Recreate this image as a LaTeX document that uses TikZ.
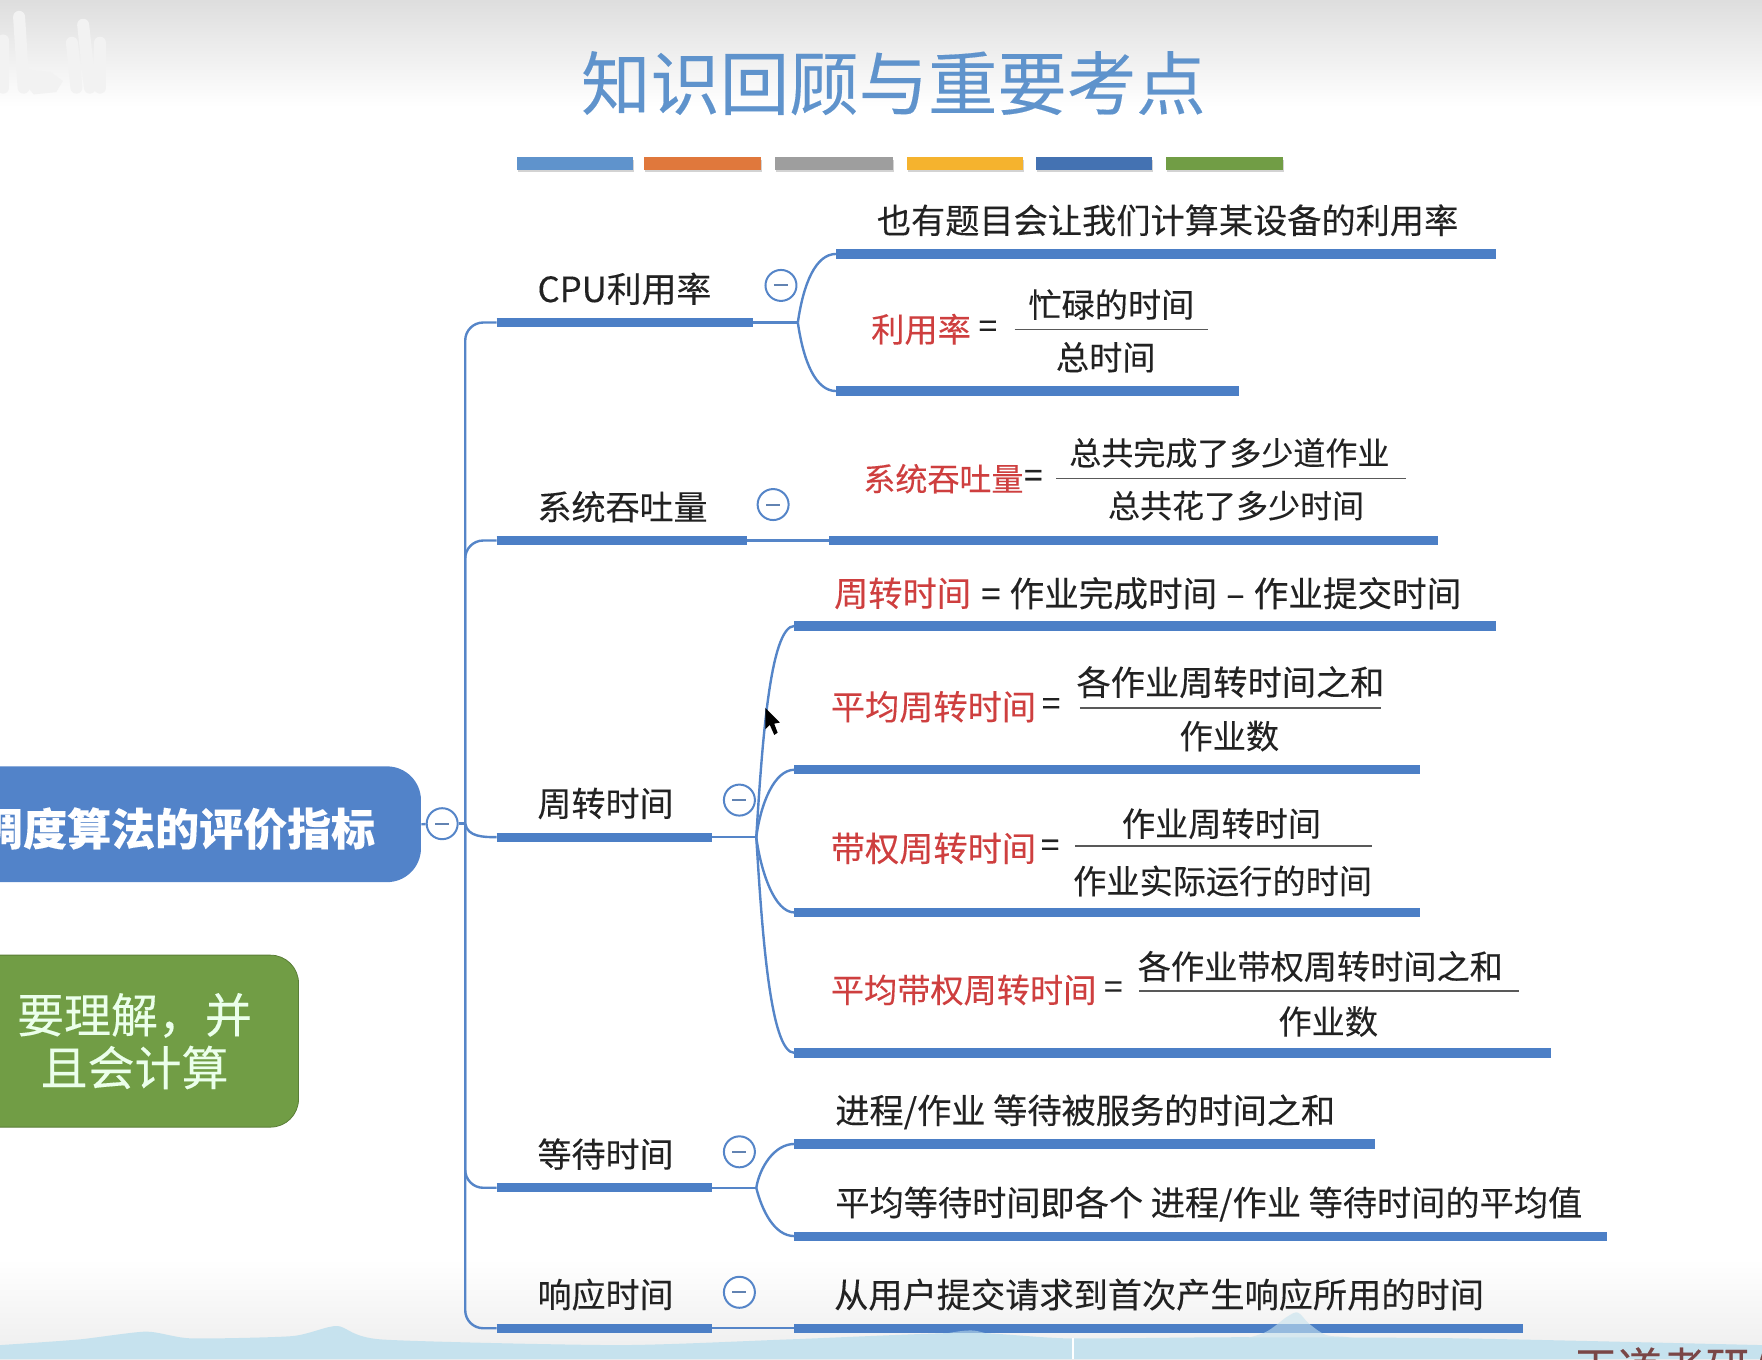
\documentclass[tikz,border=0pt]{standalone}
\usepackage{fontspec}
\setmainfont{Noto Sans CJK SC}[FakeBold=0.2]
\usepackage{xcolor}
\usepackage{tikz}
\usetikzlibrary{positioning, arrows.meta, calc, shadows}

\definecolor{linkblue}{HTML}{5585C8}
\definecolor{barblue}{HTML}{4C7FC6}
\definecolor{rootblue}{HTML}{5283C9}
\definecolor{notegreen}{HTML}{719D45}
\definecolor{titleblue}{HTML}{5F93CC}
\definecolor{termred}{HTML}{CE3F3F}
\definecolor{inkblack}{HTML}{222222}
\definecolor{hillblue}{HTML}{C6E2EE}
\definecolor{barorange}{HTML}{E0783C}
\definecolor{baryellow}{HTML}{F5B32E}

\tikzset{
    link/.style={draw=linkblue, line width=1.2pt},
    bar/.style={draw=barblue, line width=4.6pt},
    fracline/.style={draw=inkblack!75, line width=0.7pt},
    topic/.style={anchor=west, inner sep=0pt, text=inkblack, font=\fontsize{17}{20}\selectfont},
    leaf/.style={inner sep=0pt, text=inkblack, font=\fontsize{16.6}{20}\selectfont},
    term/.style={leaf, text=termred},
    bigtext/.style={font=\fontsize{17.1}{20}\selectfont},
    smalltext/.style={font=\fontsize{16}{20}\selectfont},
    collapse/.style={circle, draw=linkblue, fill=white, line width=1pt, minimum size=15.5pt, inner sep=0pt,
        path picture={\draw[draw=linkblue!70!gray, line width=1pt] ([xshift=-3.5pt]path picture bounding box.center) -- ([xshift=3.5pt]path picture bounding box.center);}},
    titlebar/.style={drop shadow={shadow xshift=0.5pt, shadow yshift=-1.2pt, opacity=0.35}},
    wmark/.style={draw=black!5, line width=6pt, line cap=round}
}

\begin{document}
\begin{tikzpicture}[x=0.5619pt, y=-0.5619pt]
    \useasboundingbox (0,0) rectangle (1568,1209.4);
    \clip (0,0) rectangle (1568,1209.4);

    % Fond
    \shade[top color=black!13, bottom color=white] (0,0) rectangle (1568,95);
    \shade[top color=white, bottom color=black!7] (0,1120) rectangle (1568,1209.4);
    \fill[hillblue] plot[smooth, tension=0.4] coordinates {(0,1197) (70,1192) (130,1185) (170,1191) (260,1189) (300,1180) (340,1192) (550,1197) (700,1192) (860,1186) (950,1191) (1100,1190) (1300,1191) (1568,1197)} -- (1568,1209.4) -- (0,1209.4) -- cycle;
    \draw[white, line width=1.2pt] (955,1191) -- (955,1209.4);

    % Filigrane
    \draw[wmark] (3,36) -- (3,78);
    \draw[wmark] (17,15) -- (21,78);
    \fill[black!5] (25,62) -- (45,64) -- (56,72) -- (50,82) -- (30,84) -- (25,78) -- cycle;
    \draw[wmark] (64,38) -- (68,78);
    \draw[wmark] (74,22) -- (80,78);
    \draw[wmark] (89,38) -- (89,78);

    % Titre
    \node (title) [text=titleblue, font=\fontsize{34.7}{40}\selectfont, inner sep=0pt] at (795,74) {知识回顾与重要考点};
    \fill[titlebar, fill=titleblue] (460,140) rectangle (563,151);
    \fill[titlebar, fill=barorange] (573,140) rectangle (677,151);
    \fill[titlebar, fill=black!38] (690,140) rectangle (795,151);
    \fill[titlebar, fill=baryellow] (807,140) rectangle (910,151);
    \fill[titlebar, fill=barblue!90!black] (922,140) rectangle (1025,151);
    \fill[titlebar, fill=notegreen] (1038,140) rectangle (1142,151);

    % Noeuds de gauche
    \node (root) [fill=rootblue, rounded corners=17pt, minimum width=243.9pt, minimum height=57.9pt, text=white, font=\bfseries\fontsize{22}{26}\selectfont, anchor=east] at (375,733.5) {\raisebox{-2.2pt}[0.88em][0.12em]{调度算法的评价指标}};
    \node (note) [fill=notegreen, draw=notegreen!80!black, rounded corners=14pt, minimum width=164pt, minimum height=86pt, text=green!8!white, align=center, font=\fontsize{23.5}{26.4}\selectfont, anchor=east] at (266,926.5) {要理解，并\\且会计算};
    \node (rootbtn) [collapse] at (393.5,733) {};
    \coordinate (trunk) at (414,733);

    % Barres
    \draw[bar] (442,287) coordinate (cpul) -- (670,287) coordinate (cpur);
    \draw[bar] (442,481) coordinate (thrl) -- (665,481) coordinate (thrr);
    \draw[bar] (442,745) coordinate (turnl) -- (634,745) coordinate (turnr);
    \draw[bar] (442,1057) coordinate (waitl) -- (634,1057) coordinate (waitr);
    \draw[bar] (442,1182) coordinate (respl) -- (634,1182) coordinate (respr);
    \draw[bar] (744,226) coordinate (cpua) -- (1331,226);
    \draw[bar] (744,348) coordinate (cpub) -- (1103,348);
    \draw[bar] (738,481) coordinate (thra) -- (1280,481);
    \draw[bar] (707,557) coordinate (turna) -- (1331,557);
    \draw[bar] (707,685) coordinate (turnb) -- (1264,685);
    \draw[bar] (707,812) coordinate (turnc) -- (1264,812);
    \draw[bar] (707,937) coordinate (turnd) -- (1380,937);
    \draw[bar] (707,1018) coordinate (waita) -- (1224,1018);
    \draw[bar] (707,1100) coordinate (waitb) -- (1430,1100);
    \draw[bar] (707,1182) coordinate (respa) -- (1355,1182);

    % Points de branchement
    \coordinate (cpujoin) at (710,287);
    \coordinate (turnjoin) at (673,745);
    \coordinate (waitjoin) at (673,1057);

    % Liaisons
    \draw[link] (root.east) -- (rootbtn);
    \draw[link] (rootbtn.east) -- (trunk);
    \draw[link, rounded corners=9pt] (trunk) |- (cpul);
    \draw[link, rounded corners=9pt] (trunk) |- (thrl);
    \draw[link, rounded corners=9pt] (trunk) |- (waitl);
    \draw[link, rounded corners=9pt] (trunk) |- (respl);
    \draw[link] (trunk) to[out=-80, in=180] (turnl);
    \draw[link] (cpur) -- (cpujoin);
    \draw[link] (cpujoin) .. controls +(5,-35) and +(-18,0) .. (cpua);
    \draw[link] (cpujoin) .. controls +(5,35) and +(-18,0) .. (cpub);
    \draw[link] (thrr) -- (thra);
    \draw[link] (turnr) -- (turnjoin);
    \draw[link] (turnjoin) .. controls +(5,-80) and +(-22,0) .. (turna);
    \draw[link] (turnjoin) .. controls +(4,-30) and +(-18,0) .. (turnb);
    \draw[link] (turnjoin) .. controls +(4,30) and +(-18,0) .. (turnc);
    \draw[link] (turnjoin) .. controls +(5,80) and +(-22,0) .. (turnd);
    \draw[link] (waitr) -- (waitjoin);
    \draw[link] (waitjoin) .. controls +(3,-18) and +(-18,0) .. (waita);
    \draw[link] (waitjoin) .. controls +(5,20) and +(-18,0) .. (waitb);
    \draw[link] (respr) -- (respa);

    % Themes
    \node (cpu) [topic, font=\fontsize{17.4}{20}\selectfont] at (478,257) {CPU利用率};
    \node (thr) [topic] at (478,451) {系统吞吐量};
    \node (turn) [topic] at (478,715) {周转时间};
    \node (wait) [topic] at (478,1027) {等待时间};
    \node (resp) [topic] at (478,1152) {响应时间};
    \node (cpubtn) [collapse] at (695,254) {};
    \node (thrbtn) [collapse] at (688,449) {};
    \node (turnbtn) [collapse] at (658,712) {};
    \node (waitbtn) [collapse] at (658,1025) {};
    \node (respbtn) [collapse] at (658,1150) {};

    % CPU
    \node (cputxt) [leaf, bigtext, anchor=west] at (780,196) {也有题目会让我们计算某设备的利用率};
    \node (cpuname) [term, anchor=west] at (775,293) {利用率};
    \node (cpueq) [leaf, right=3.5pt of cpuname] {=};
    \node (cpunum) [leaf] at (989,271) {忙碌的时间};
    \node (cpuden) [leaf] at (984,318) {总时间};
    \draw[fracline] (903,293) -- (1075,293);

    % Debit
    \node (thrname) [term, smalltext, anchor=west] at (768,426) {系统吞吐量};
    \node (threq) [leaf, right=0pt of thrname] {=};
    \node (thrnum) [leaf, smalltext] at (1094,403) {总共完成了多少道作业};
    \node (thrden) [leaf, smalltext] at (1100,450) {总共花了多少时间};
    \draw[fracline] (940,426) -- (1251,426);

    % Rotation
    \node (turnname) [term, bigtext, anchor=west] at (742,528) {周转时间};
    \node (turneq) [leaf, font=\fontsize{17.3}{20}\selectfont, anchor=west] at (873,528) {=\hspace{4.5pt}作业完成时间\hspace{4.5pt}–\hspace{4.5pt}作业提交时间};
    \node (avgname) [term, bigtext, anchor=west] at (739,629) {平均周转时间};
    \node (avgeq) [leaf, right=2.5pt of avgname] {=};
    \node (avgnum) [leaf, bigtext] at (1095,607) {各作业周转时间之和};
    \node (avgden) [leaf] at (1094,655) {作业数};
    \draw[fracline] (961,630) -- (1229,630);
    \node (wgtname) [term, bigtext, anchor=west] at (739,755) {带权周转时间};
    \node (wgteq) [leaf, right=2pt of wgtname] {=};
    \node (wgtnum) [leaf] at (1087,733) {作业周转时间};
    \node (wgtden) [leaf] at (1088,784) {作业实际运行的时间};
    \draw[fracline] (957,753) -- (1221,753);
    \node (awgname) [term, anchor=west] at (739,881) {平均带权周转时间};
    \node (awgeq) [leaf, right=3.5pt of awgname] {=};
    \node (awgnum) [leaf] at (1175,860) {各作业带权周转时间之和};
    \node (awgden) [leaf] at (1182,909) {作业数};
    \draw[fracline] (1014,882) -- (1352,882);

    % Attente et reponse
    \node (waittxta) [leaf, bigtext, anchor=west] at (743,989.5) {进程/作业 等待被服务的时间之和};
    \node (waittxtb) [leaf, bigtext, anchor=west] at (743,1071.5) {平均等待时间即各个 进程/作业 等待时间的平均值};
    \node (resptxt) [leaf, bigtext, anchor=west] at (742,1152) {从用户提交请求到首次产生响应所用的时间};

    % Curseur et decor du bas
    \fill[black] (681,630) -- (681,649) -- (685,645) -- (689,654) -- (692,652) -- (689,644) -- (694,643) -- cycle;
    \fill[hillblue, opacity=0.55] plot[smooth, tension=0.5] coordinates {(800,1196) (840,1187) (865,1184) (890,1189) (950,1196)} -- cycle;
    \fill[hillblue, opacity=0.6] plot[smooth, tension=0.5] coordinates {(1090,1196) (1125,1186) (1145,1172) (1155,1168) (1165,1178) (1180,1188) (1200,1190) (1240,1196)} -- cycle;
    \node (brand) [anchor=west, inner sep=0pt, text=black!55!red!45!gray, font=\fontsize{22}{26}\selectfont] at (1400,1219) {王道考研/};
\end{tikzpicture}
\end{document}
